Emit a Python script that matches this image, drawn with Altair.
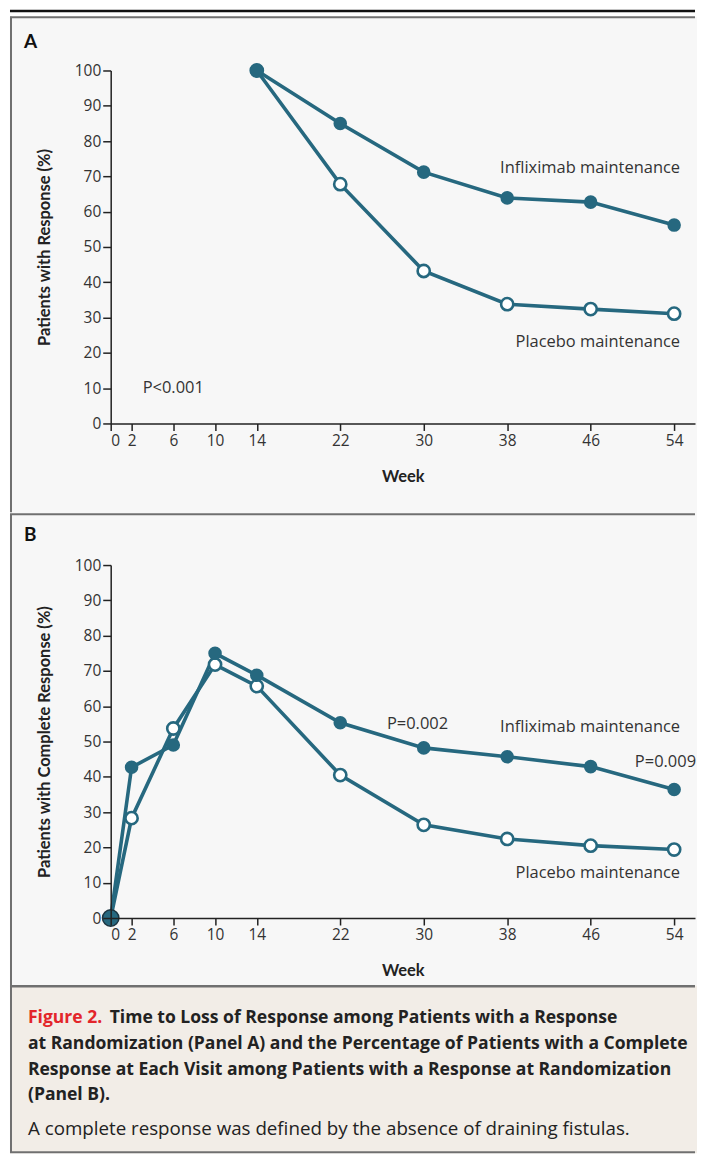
import altair as alt
import pandas as pd

# ---------------- data ----------------
weeks_a = [14, 22, 30, 38, 46, 54]
inflix_a = [100, 85.0, 71.2, 63.9, 62.7, 56.2]
placebo_a = [100, 67.8, 43.2, 33.8, 32.4, 31.1]

weeks_b = [0, 2, 6, 10, 14, 22, 30, 38, 46, 54]
inflix_b = [0, 42.7, 49.0, 75.0, 68.8, 55.3, 48.2, 45.7, 42.9, 36.4]
placebo_b = [0, 28.3, 53.7, 71.8, 65.7, 40.5, 26.4, 22.4, 20.5, 19.4]

x_ticks = [0, 2, 6, 10, 14, 22, 30, 38, 46, 54]
y_ticks = [0, 10, 20, 30, 40, 50, 60, 70, 80, 90, 100]

ann_a_text = ["Infliximab maintenance", "Placebo maintenance", "P<0.001"]
ann_a_week = [54.57, 54.57, 3.06]
ann_a_value = [72.3, 23.2, 9.9]
ann_a_align = ["right", "right", "left"]

ann_b_text = ["P=0.002", "Infliximab maintenance", "P=0.009", "Placebo maintenance"]
ann_b_week = [26.47, 54.57, 56.1, 54.57]
ann_b_value = [55.1, 54.0, 44.1, 12.7]
ann_b_align = ["left", "right", "right", "right"]

caption_red = "Figure 2."
caption_bold = [
    "Time to Loss of Response among Patients with a Response",
    "at Randomization (Panel A) and the Percentage of Patients with a Complete",
    "Response at Each Visit among Patients with a Response at Randomization",
    "(Panel B).",
]
caption_plain = "A complete response was defined by the absence of draining fistulas."

TEAL = "#26687f"
FONT = "Open Sans"
TFONT = "Lato"
W, H = 586, 354


def long_df(weeks, inf, pla):
    rows = []
    for w, v in zip(weeks, pla):
        rows.append({"week": w, "value": v, "series": "Placebo maintenance"})
    for w, v in zip(weeks, inf):
        rows.append({"week": w, "value": v, "series": "Infliximab maintenance"})
    return pd.DataFrame(rows)


one = pd.DataFrame({"k": [0]})


def rect(x, x2, y, y2, color):
    return alt.Chart(one).mark_rect(color=color, clip=False).encode(
        x=alt.value(x), x2=alt.value(x2), y=alt.value(y), y2=alt.value(y2))


def hrule(x, x2, y, color, width):
    return alt.Chart(one).mark_rule(color=color, strokeWidth=width, clip=False).encode(
        x=alt.value(x), x2=alt.value(x2), y=alt.value(y))


def vrule(x, y, y2, color, width):
    return alt.Chart(one).mark_rule(color=color, strokeWidth=width, clip=False).encode(
        x=alt.value(x), y=alt.value(y), y2=alt.value(y2))


def label(txt, x, y, size, weight="normal", color="#222", align="left", font=FONT):
    return alt.Chart(one).mark_text(
        text=txt, font=font, fontSize=size, fontWeight=weight, color=color,
        align=align, baseline="middle", clip=False).encode(x=alt.value(x), y=alt.value(y))


def panel(weeks, inf, pla, ytitle, ann_text, ann_week, ann_value, ann_align, deco_before, deco_after, zero_pt):
    df = long_df(weeks, inf, pla)
    xenc = alt.X("week:Q", scale=alt.Scale(domain=[0, 56], nice=False, zero=False),
                 axis=alt.Axis(values=x_ticks, title="Week", tickSize=7, labelPadding=3,
                               titleX=W / 2, titleY=53, titleBaseline="middle", zindex=1))
    yenc = alt.Y("value:Q", scale=alt.Scale(domain=[0, 100], nice=False),
                 axis=alt.Axis(values=y_ticks, tickCount=11, title=ytitle, tickSize=8, labelPadding=2,
                               titleX=-66.5, titleY=H / 2, titleBaseline="middle",
                               titleAngle=270, titleAlign="center", zindex=1, labelOverlap=False))
    base = alt.Chart(df).encode(x=xenc, y=yenc)
    lines = base.mark_line(color=TEAL, strokeWidth=3.6).encode(detail="series:N")
    open_pts = base.transform_filter(alt.datum.series == "Placebo maintenance").mark_point(
        shape="circle", size=150, fill="white", stroke=TEAL, strokeWidth=2.6, opacity=1, filled=False)
    filled_pts = base.transform_filter(alt.datum.series == "Infliximab maintenance").mark_point(
        shape="circle", size=185, color=TEAL, filled=True, opacity=1)
    layers = list(deco_before) + [lines, open_pts, filled_pts]
    if zero_pt:
        layers.append(base.transform_filter(
            (alt.datum.series == "Infliximab maintenance") & (alt.datum.week == 0)).mark_point(
            shape="circle", size=270, fill=TEAL, stroke="#1b3440", strokeWidth=1.5, opacity=1, filled=True))
    ann = pd.DataFrame({"text": ann_text, "week": ann_week, "value": ann_value, "align": ann_align})
    for al in ["left", "right"]:
        layers.append(alt.Chart(ann).transform_filter(alt.datum.align == al).mark_text(
            font=FONT, fontSize=16.5, color="#333", align=al, baseline="middle").encode(
            x=xenc, y=yenc, text="text:N"))
    layers += list(deco_after)
    return alt.layer(*layers).properties(width=W, height=H)


BORDER = "#707070"
PANEL_BG = "#f7f7f7"
CAP_BG = "#f2ede7"
RX = 588   # right edge (local px)
RR = 586

# panel A: plot origin at page (109, 69)
deco_a_before = [
    rect(-101, RX, -54, 444, PANEL_BG),
]
deco_a_after = [
    hrule(-101, RR, -59.75, "#111", 2.5),
    hrule(-101, RR, -53.5, BORDER, 2),
    vrule(-100, -54, 443, BORDER, 2),
    label("A", -87, -29, 19, "bold", "#111", font=TFONT),
]

# panel B: plot origin at page (109, 565)
deco_b_before = [
    rect(-101, RX, -52, 422, PANEL_BG),
    rect(-101, RX, 422, 590, CAP_BG),
]
deco_b_after = [
    hrule(-101, RR, -51, BORDER, 2),
    hrule(-101, RR, 422.5, BORDER, 2.5),
    hrule(-101, RR, 589, BORDER, 2),
    vrule(-100, -51, 589, BORDER, 2),
    label("B", -87, -30, 19, "bold", "#111", font=TFONT),
    label(caption_red, -83, 454, 17.6, "bold", "#e3252b"),
    label(caption_bold[0], -1, 454, 17.6, "bold", "#222"),
    label(caption_bold[1], -83, 480, 17.6, "bold", "#222"),
    label(caption_bold[2], -83, 506, 17.6, "bold", "#222"),
    label(caption_bold[3], -83, 532, 17.6, "bold", "#222"),
    label(caption_plain, -83, 566, 18.8, "normal", "#222"),
]

pa = panel(weeks_a, inflix_a, placebo_a, "Patients with Response (%)",
           ann_a_text, ann_a_week, ann_a_value, ann_a_align, deco_a_before, deco_a_after, False)
pb = panel(weeks_b, inflix_b, placebo_b, "Patients with Complete Response (%)",
           ann_b_text, ann_b_week, ann_b_value, ann_b_align, deco_b_before, deco_b_after, True)

chart = alt.vconcat(pa, pb, spacing=0).properties(padding=0).configure_view(
    stroke=None
).configure_axis(
    grid=False, domainColor="#222", domainWidth=1.5, tickColor="#222", tickWidth=1.5,
    labelFont=FONT, labelFontSize=15.5, labelColor="#333", labelOverlap=False,
    titleFont=TFONT, titleFontSize=16.5, titleFontWeight="bold", titleColor="#222",
)

chart.save("out.html", embed_options={"renderer": "svg", "actions": False})
